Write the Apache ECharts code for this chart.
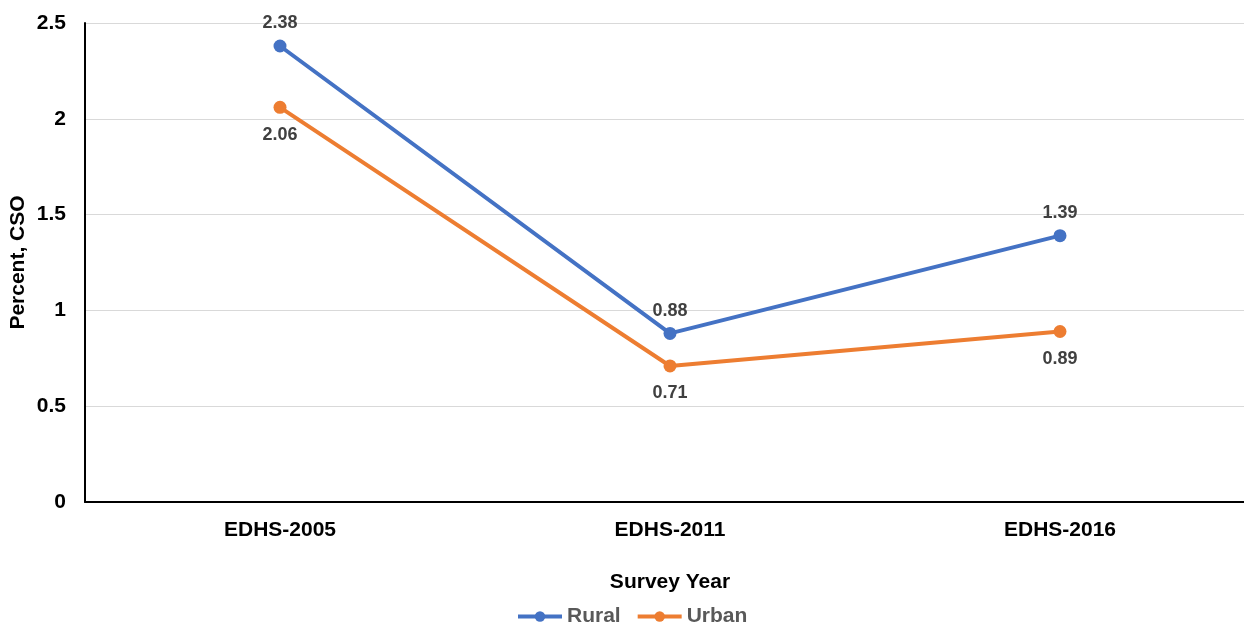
<!DOCTYPE html>
<html>
<head>
<meta charset="utf-8">
<script src="https://cdn.jsdelivr.net/npm/echarts@6/dist/echarts.min.js"></script>
<style>
  html, body { margin: 0; padding: 0; background: #fff; }
  #chart { width: 1244px; height: 625px; }
</style>
</head>
<body>
<div id="chart"></div>
<script>
// Survey rounds and CSO percentages by residence
const categories = ['EDHS-2005', 'EDHS-2011', 'EDHS-2016'];
const rural = [2.38, 0.88, 1.39];
const urban = [2.06, 0.71, 0.89];
const yTicks = [0, 0.5, 1, 1.5, 2, 2.5];

const FONT = '"Liberation Sans", Arial, Helvetica, sans-serif';

const chart = echarts.init(document.getElementById('chart'));

function lineSeries(name, data, color, labelPos, dist) {
  return {
    name: name,
    type: 'line',
    data: data,
    symbol: 'circle',
    symbolSize: 13,
    lineStyle: { color: color, width: 4 },
    itemStyle: { color: color },
    label: {
      show: true,
      position: labelPos,
      distance: dist,
      color: '#404040',
      fontFamily: FONT,
      fontWeight: 'bold',
      fontSize: 18,
      formatter: p => p.value.toFixed(2)
    },
    emphasis: { disabled: true }
  };
}

chart.setOption({
  animation: false,
  textStyle: { fontFamily: FONT },
  // plot area runs slightly past the right edge of the canvas
  grid: { left: 85, width: 1170, top: 23, height: 479, outerBoundsMode: 'none', containLabel: false },
  legend: {
    top: 601,
    left: 511,
    itemWidth: 44,
    itemHeight: 13,
    itemGap: 15,
    lineStyle: { width: 4 },
    textStyle: { color: '#595959', fontFamily: FONT, fontWeight: 'bold', fontSize: 21 },
    data: ['Rural', 'Urban']
  },
  xAxis: {
    type: 'category',
    data: categories,
    boundaryGap: true,
    name: 'Survey Year',
    nameLocation: 'middle',
    nameGap: 70,
    nameTextStyle: { color: '#000', fontFamily: FONT, fontWeight: 'bold', fontSize: 21 },
    axisLine: { lineStyle: { color: '#000', width: 2 } },
    axisTick: { show: false },
    axisLabel: { color: '#000', fontFamily: FONT, fontWeight: 'bold', fontSize: 21, margin: 18 }
  },
  yAxis: {
    type: 'value',
    min: 0,
    max: 2.5,
    interval: 0.5,
    name: 'Percent, CSO',
    nameLocation: 'middle',
    nameGap: 56,
    nameMoveOverlap: false,
    nameTextStyle: { color: '#000', fontFamily: FONT, fontWeight: 'bold', fontSize: 21 },
    axisLine: { show: true, lineStyle: { color: '#000', width: 2 } },
    axisTick: { show: false },
    splitLine: { lineStyle: { color: '#d9d9d9', width: 1 } },
    axisLabel: {
      color: '#000', fontFamily: FONT, fontWeight: 'bold', fontSize: 21, margin: 19,
      formatter: v => (yTicks.includes(v) ? String(v) : '')
    }
  },
  series: [
    lineSeries('Rural', rural, '#4472C4', 'top', 7),
    lineSeries('Urban', urban, '#ED7D31', 'bottom', 12)
  ]
});
</script>
</body>
</html>
